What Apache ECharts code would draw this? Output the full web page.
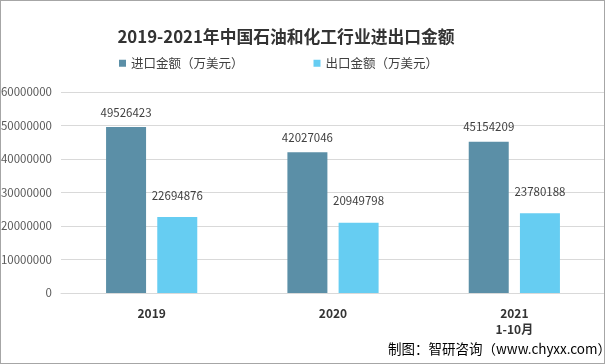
<!DOCTYPE html>
<html><head><meta charset="utf-8">
<script src="https://cdn.jsdelivr.net/npm/echarts@6/dist/echarts.min.js"></script>
<style>html,body{margin:0;padding:0;background:#fff}#w{position:relative;width:605px;height:364px}#c{width:605px;height:364px}#b{position:absolute;left:0;top:0;width:605px;height:364px;box-sizing:border-box;border:1px solid #a6a6a6;pointer-events:none}</style>
</head><body><div id="w"><div id="c"></div><div id="b"></div></div>
<script>
const categories = ['2019', '2020', '2021\n1-10月'];
const importValues = [49526423, 42027046, 45154209];
const exportValues = [22694876, 20949798, 23780188];
const seriesNames = ['进口金额（万美元）', '出口金额（万美元）'];
const yTicks = [0, 10000000, 20000000, 30000000, 40000000, 50000000, 60000000];

const chart = echarts.init(document.getElementById('c'));
const font = '"Noto Sans CJK SC", "Noto Sans", sans-serif';
chart.setOption({
  animation: false,
  title: {
    text: '2019-2021年中国石油和化工行业进出口金额',
    left: 281, top: 23, textAlign: 'center',
    textStyle: {fontFamily: font, fontSize: 16.8, fontWeight: 'bold', color: '#333'}
  },
  legend: {
    data: seriesNames,
    top: 52, left: 114, itemGap: 70,
    itemWidth: 7, itemHeight: 7, icon: 'rect',
    textStyle: {fontFamily: font, fontSize: 12.5, color: '#404040'}
  },
  grid: {left: 61, right: 0, top: 92, bottom: 71, containLabel: false, outerBoundsMode: 'none'},
  xAxis: {
    type: 'category', data: categories,
    axisLine: {lineStyle: {color: '#d9d9d9'}}, axisTick: {show: false},
    axisLabel: {fontFamily: font, fontSize: 12, fontWeight: 'bold', color: '#333', margin: 12, lineHeight: 16}
  },
  yAxis: {
    type: 'value', min: yTicks[0], max: yTicks[yTicks.length - 1], interval: 10000000,
    axisLine: {show: false}, axisTick: {show: false},
    splitLine: {lineStyle: {color: '#d9d9d9'}},
    axisLabel: {fontFamily: font, fontSize: 11.5, color: '#595959', margin: 9, formatter: v => String(v)}
  },
  series: [
    {name: seriesNames[0], type: 'bar', data: importValues, barWidth: 40, barGap: '28%',
     itemStyle: {color: '#5B8FA7'},
     label: {show: true, position: 'top', distance: 9, fontFamily: font, fontSize: 11.5, color: '#404040'}},
    {name: seriesNames[1], type: 'bar', data: exportValues, barWidth: 40,
     itemStyle: {color: '#66CDF2'},
     label: {show: true, position: 'top', distance: 16, fontFamily: font, fontSize: 11.5, color: '#404040'}}
  ],
  graphic: [{
    type: 'text', left: 388, top: 342,
    style: {text: '制图：智研咨询（www.chyxx.com）', font: '13.5px ' + font, fill: '#000'}
  }]
});
</script></body></html>
